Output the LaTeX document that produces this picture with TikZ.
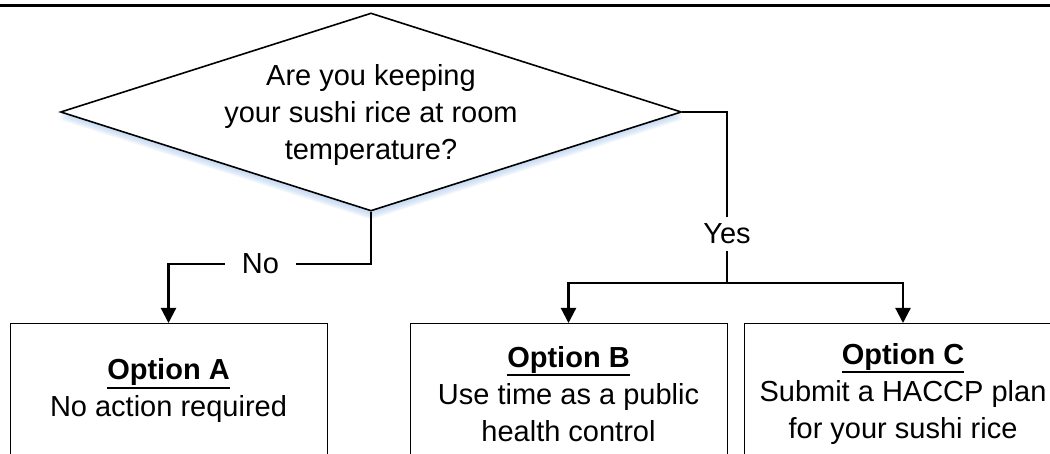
\documentclass[tikz,border=0pt]{standalone}
\usepackage{fontspec}
\setmainfont{Liberation Sans}
\usetikzlibrary{shapes.geometric,arrows.meta,backgrounds}
\definecolor{shadowblue}{RGB}{170,200,235}
\newcommand\thickul[1]{\leavevmode\vtop{\hbox{#1}\kern0.6pt\hrule height 2pt}}
\begin{document}
\begin{tikzpicture}[x=1pt,y=-1pt,
  every node/.style={font=\fontsize{29}{37}\selectfont},
  conn/.style={line width=2.2pt},
  arr/.style={conn,-{Triangle[length=15pt,width=15pt]}},
  decision/.style={diamond, draw, line width=1.6pt, fill=white, minimum width=621pt, minimum height=198pt, inner sep=0pt},
  optbox/.style={draw, line width=1pt, minimum width=317pt, minimum height=170pt, anchor=north, inner sep=0pt},
  btext/.style={align=center, inner sep=0pt},
  lbl/.style={fill=white, inner xsep=17pt, inner ysep=7pt}
]
\useasboundingbox (0,0) rectangle (1050,454);
\clip (0,0) rectangle (1050,454);
% top rule
\draw[line width=3pt] (0,6) -- (1050,6);
% decision
\node[decision] (q) at (371,112) {};
\begin{pgfonlayer}{background}
  \foreach \i in {1,...,7}{
    \fill[shadowblue, opacity=0.13]
      ([yshift=-1.1*\i pt]q.north) -- ([yshift=-1.1*\i pt]q.west) --
      ([yshift=-1.1*\i pt]q.south) -- ([yshift=-1.1*\i pt]q.east) -- cycle;
  }
\end{pgfonlayer}
\node[btext] (qt) at (371,115) {Are you keeping\\your sushi rice at room\\temperature?};
% option boxes
\node[optbox] (a) at (168.5,323) {};
\node[optbox] (b) at (568.5,323) {};
\node[optbox] (c) at (903,323) {};
\node[btext] (at) at (168.5,391) {\thickul{\textbf{Option A}}\\No action required};
\node[btext] (bt) at (568.5,394) {\thickul{\textbf{Option B}}\\Use time as a public\\health control};
\node[btext] (ct) at (903,394) {\thickul{\textbf{Option C}}\\Submit a HACCP plan\\for your sushi rice};
% connectors
\coordinate (split) at (727,283);
\draw[arr] (q.south) -- ++(0,52) -| node[lbl,pos=0.273] {No} (a.north);
\draw[conn] (q.east) -| node[lbl,pos=0.857] {Yes} (split);
\draw[arr] (split) -| (b.north);
\draw[arr] (split) -| (c.north);
\end{tikzpicture}
\end{document}
